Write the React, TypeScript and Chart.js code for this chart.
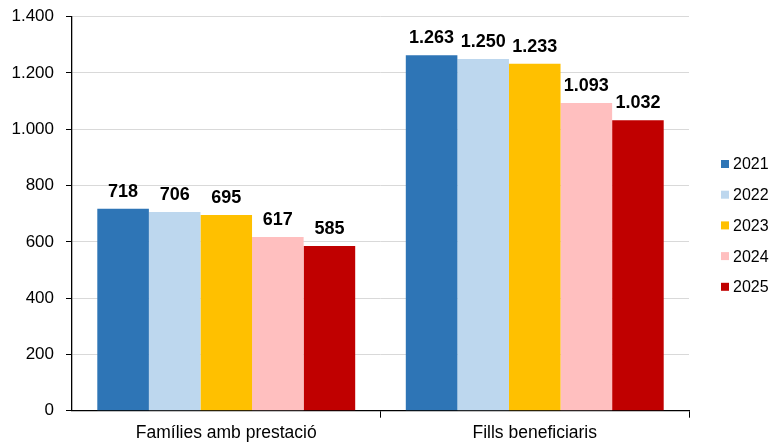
import React, { useEffect, useRef } from "react";
import { Chart, registerables } from "chart.js";

Chart.register(...registerables);

const categories = ["Famílies amb prestació", "Fills beneficiaris"];
const years = ["2021", "2022", "2023", "2024", "2025"];
const values2021 = [718, 1263];
const values2022 = [706, 1250];
const values2023 = [695, 1233];
const values2024 = [617, 1093];
const values2025 = [585, 1032];
const seriesValues = [values2021, values2022, values2023, values2024, values2025];
const colors = ["#2E75B6", "#BDD7EE", "#FFC000", "#FFBFBF", "#C00000"];
const yTicks = [0, 200, 400, 600, 800, 1000, 1200, 1400];

const FONT = "'Liberation Sans', Arial, sans-serif";

function fmt(v: number): string {
  return String(Math.round(v)).replace(/\B(?=(\d{3})+(?!\d))/g, ".");
}

const dataLabelPlugin = {
  id: "dataLabels",
  afterDatasetsDraw(chart: any) {
    const ctx = chart.ctx;
    ctx.save();
    ctx.font = `bold 18px ${FONT}`;
    ctx.fillStyle = "#000";
    ctx.textAlign = "center";
    ctx.textBaseline = "alphabetic";
    chart.data.datasets.forEach((ds: any, i: number) => {
      const meta = chart.getDatasetMeta(i);
      meta.data.forEach((bar: any, j: number) => {
        ctx.fillText(fmt(ds.data[j]), bar.x, bar.y - 12);
      });
    });
    ctx.restore();
  },
};

const legendPlugin = {
  id: "customLegend",
  afterDraw(chart: any) {
    const ctx = chart.ctx;
    ctx.save();
    ctx.font = `16px ${FONT}`;
    ctx.textBaseline = "middle";
    ctx.textAlign = "left";
    const n = chart.data.datasets.length;
    const spacing = 30.7;
    const cy = 225.4;
    chart.data.datasets.forEach((ds: any, i: number) => {
      const y = cy + (i - (n - 1) / 2) * spacing;
      ctx.fillStyle = ds.backgroundColor;
      ctx.fillRect(721, y - 4, 8, 8);
      ctx.fillStyle = "#000";
      ctx.fillText(ds.label, 733, y + 1);
    });
    ctx.restore();
  },
};

export default function App() {
  const ref = useRef<HTMLCanvasElement | null>(null);

  useEffect(() => {
    if (!ref.current) return;
    const chart = new Chart(ref.current, {
      type: "bar",
      data: {
        labels: categories,
        datasets: years.map((y, i) => ({
          label: y,
          data: seriesValues[i],
          backgroundColor: colors[i],
          borderWidth: 0,
          categoryPercentage: 0.836,
          barPercentage: 1,
        })),
      },
      options: {
        responsive: false,
        animation: false,
        layout: { padding: { left: 0, right: 80, top: 16.7, bottom: 0 } },
        plugins: {
          legend: { display: false },
          tooltip: { enabled: false },
        },
        scales: {
          x: {
            afterFit: (scale: any) => {
              scale.height = 35.3;
              scale.paddingLeft = 0;
              scale.paddingRight = 0;
            },
            grid: {
              display: true,
              offset: true,
              drawOnChartArea: false,
              drawTicks: true,
              tickLength: 7,
              color: "#000",
              tickColor: (c: any) => (c.index === 0 ? "rgba(0,0,0,0)" : "#000"),
            },
            border: { display: true, color: "#000", width: 1.3 },
            ticks: {
              color: "#000",
              font: { family: FONT, size: 17.5 },
              padding: 5,
            },
          },
          y: {
            min: 0,
            max: 1400,
            afterFit: (scale: any) => {
              scale.width = 72;
              scale.paddingTop = 0;
              scale.paddingBottom = 0;
            },
            afterBuildTicks: (scale: any) => {
              scale.ticks = yTicks.map((v) => ({ value: v }));
            },
            grid: {
              color: "#D9D9D9",
              lineWidth: 1,
              tickColor: "#000",
              tickLength: 6,
              drawTicks: true,
            },
            border: { display: true, color: "#000", width: 1.3 },
            ticks: {
              color: "#000",
              font: { family: FONT, size: 17 },
              padding: 12,
              callback: (v: any) => fmt(Number(v)),
            },
          },
        },
      },
      plugins: [dataLabelPlugin, legendPlugin],
    });
    return () => chart.destroy();
  }, []);

  return (
    <div style={{ position: "fixed", left: 0, top: 0, width: 769, height: 446, background: "#fff" }}>
      <canvas ref={ref} width={769} height={446} style={{ display: "block" }} />
    </div>
  );
}
